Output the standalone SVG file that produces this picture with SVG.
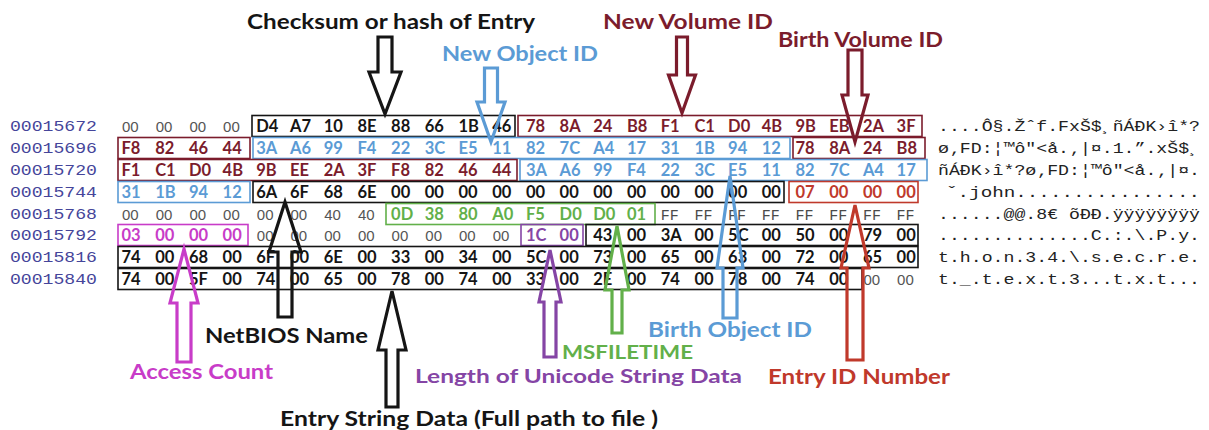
<svg xmlns="http://www.w3.org/2000/svg" width="1209" height="430" viewBox="0 0 1209 430">
  <style>
    .addr { font-family: "Liberation Mono", monospace; font-size: 15px; fill: #45459a; }
    .asc { font-family: "Liberation Mono", monospace; font-size: 15px; fill: #222; }
    .hx { font-family: Lato, "Liberation Sans", sans-serif; font-weight: 700; font-size: 16.5px; }
    .pl { font-family: "Liberation Sans", sans-serif; font-size: 15px; fill: #555; }
    .ff { font-family: "Liberation Mono", monospace; font-size: 15px; fill: #4a4a4a; }
    .lbl { font-family: Lato, "Liberation Sans", sans-serif; font-weight: 700; font-size: 20px; }
    .box { fill: none; stroke-width: 1.6; }
    .arr { fill: none; stroke-width: 3.2; stroke-linejoin: miter; }
    .k { fill: #151515; } .dr { fill: #7b1c2c; } .bl { fill: #5b9bd5; } .rd { fill: #c0392b; }
    .gr { fill: #62b04a; } .mg { fill: #c83cc8; } .pu { fill: #8545a5; }
    .sk { stroke: #151515; } .sdr { stroke: #7b1c2c; } .sbl { stroke: #5b9bd5; } .srd { stroke: #c0392b; }
    .sgr { stroke: #62b04a; } .smg { stroke: #c83cc8; } .spu { stroke: #8545a5; }
  </style>
  <rect width="1209" height="430" fill="#fff"/>

  <!-- offset column -->
  <g id="offsets" class="addr">
    <text x="10" y="131" textLength="87" lengthAdjust="spacingAndGlyphs">00015672</text>
    <text x="10" y="153" textLength="87" lengthAdjust="spacingAndGlyphs">00015696</text>
    <text x="10" y="175" textLength="87" lengthAdjust="spacingAndGlyphs">00015720</text>
    <text x="10" y="197" textLength="87" lengthAdjust="spacingAndGlyphs">00015744</text>
    <text x="10" y="219" textLength="87" lengthAdjust="spacingAndGlyphs">00015768</text>
    <text x="10" y="240" textLength="87" lengthAdjust="spacingAndGlyphs">00015792</text>
    <text x="10" y="262" textLength="87" lengthAdjust="spacingAndGlyphs">00015816</text>
    <text x="10" y="284" textLength="87" lengthAdjust="spacingAndGlyphs">00015840</text>
  </g>

  <!-- field outlines -->
  <g id="field-checksum"><rect class="box sk" x="252" y="115.5" width="263" height="21"/></g>
  <g id="field-new-volume-id">
    <rect class="box sdr" x="518" y="115.5" width="404" height="21"/>
    <rect class="box sdr" x="118" y="137.5" width="132" height="21"/>
  </g>
  <g id="field-new-object-id"><rect class="box sbl" x="253" y="137.5" width="537" height="21"/></g>
  <g id="field-birth-volume-id">
    <rect class="box sdr" x="793" y="137.5" width="132" height="21"/>
    <rect class="box sdr" x="118" y="159.5" width="399" height="21"/>
  </g>
  <g id="field-birth-object-id">
    <rect class="box sbl" x="520" y="159.5" width="407" height="21"/>
    <rect class="box sbl" x="118" y="181.5" width="132" height="21"/>
  </g>
  <g id="field-netbios-name"><rect class="box sk" x="253" y="181.5" width="531" height="21"/></g>
  <g id="field-entry-id"><rect class="box srd" x="789" y="181.5" width="129" height="21"/></g>
  <g id="field-msfiletime"><rect class="box sgr" x="386" y="203.5" width="269" height="21"/></g>
  <g id="field-access-count"><rect class="box smg" x="118" y="224.5" width="130" height="21"/></g>
  <g id="field-string-length"><rect class="box spu" x="521" y="224.5" width="62" height="21"/></g>
  <g id="field-entry-string">
    <rect class="box sk" x="586" y="224.5" width="332" height="21"/>
    <rect class="box sk" x="118" y="246.5" width="800" height="21"/>
    <rect class="box sk" x="118" y="268.5" width="744" height="21"/>
  </g>

  <!-- hex bytes -->
  <g id="row-00015672">
    <text class="pl" y="132"><tspan x="122">00</tspan> <tspan x="155.7">00</tspan> <tspan x="189.4">00</tspan> <tspan x="223.1">00</tspan></text>
    <text class="hx k" y="132"><tspan x="256.3">D4</tspan> <tspan x="290">A7</tspan> <tspan x="323.7">10</tspan> <tspan x="357.4">8E</tspan> <tspan x="391.1">88</tspan> <tspan x="424.8">66</tspan> <tspan x="458.5">1B</tspan> <tspan x="492.2">46</tspan></text>
    <text class="hx dr" y="132"><tspan x="525.9">78</tspan> <tspan x="559.6">8A</tspan> <tspan x="593.3">24</tspan> <tspan x="627">B8</tspan> <tspan x="660.7">F1</tspan> <tspan x="694.4">C1</tspan> <tspan x="728.1">D0</tspan> <tspan x="761.8">4B</tspan> <tspan x="795.5">9B</tspan> <tspan x="829.2">EB</tspan> <tspan x="862.9">2A</tspan> <tspan x="896.6">3F</tspan></text>
  </g>
  <g id="row-00015696">
    <text class="hx dr" y="154"><tspan x="121.5">F8</tspan> <tspan x="155.2">82</tspan> <tspan x="188.9">46</tspan> <tspan x="222.6">44</tspan></text>
    <text class="hx bl" y="154"><tspan x="256.3">3A</tspan> <tspan x="290">A6</tspan> <tspan x="323.7">99</tspan> <tspan x="357.4">F4</tspan> <tspan x="391.1">22</tspan> <tspan x="424.8">3C</tspan> <tspan x="458.5">E5</tspan> <tspan x="492.2">11</tspan> <tspan x="525.9">82</tspan> <tspan x="559.6">7C</tspan> <tspan x="593.3">A4</tspan> <tspan x="627">17</tspan> <tspan x="660.7">31</tspan> <tspan x="694.4">1B</tspan> <tspan x="728.1">94</tspan> <tspan x="761.8">12</tspan></text>
    <text class="hx dr" y="154"><tspan x="795.5">78</tspan> <tspan x="829.2">8A</tspan> <tspan x="862.9">24</tspan> <tspan x="896.6">B8</tspan></text>
  </g>
  <g id="row-00015720">
    <text class="hx dr" y="176"><tspan x="121.5">F1</tspan> <tspan x="155.2">C1</tspan> <tspan x="188.9">D0</tspan> <tspan x="222.6">4B</tspan> <tspan x="256.3">9B</tspan> <tspan x="290">EE</tspan> <tspan x="323.7">2A</tspan> <tspan x="357.4">3F</tspan> <tspan x="391.1">F8</tspan> <tspan x="424.8">82</tspan> <tspan x="458.5">46</tspan> <tspan x="492.2">44</tspan></text>
    <text class="hx bl" y="176"><tspan x="525.9">3A</tspan> <tspan x="559.6">A6</tspan> <tspan x="593.3">99</tspan> <tspan x="627">F4</tspan> <tspan x="660.7">22</tspan> <tspan x="694.4">3C</tspan> <tspan x="728.1">E5</tspan> <tspan x="761.8">11</tspan> <tspan x="795.5">82</tspan> <tspan x="829.2">7C</tspan> <tspan x="862.9">A4</tspan> <tspan x="896.6">17</tspan></text>
  </g>
  <g id="row-00015744">
    <text class="hx bl" y="198"><tspan x="121.5">31</tspan> <tspan x="155.2">1B</tspan> <tspan x="188.9">94</tspan> <tspan x="222.6">12</tspan></text>
    <text class="hx k" y="198"><tspan x="256.3">6A</tspan> <tspan x="290">6F</tspan> <tspan x="323.7">68</tspan> <tspan x="357.4">6E</tspan> <tspan x="391.1">00</tspan> <tspan x="424.8">00</tspan> <tspan x="458.5">00</tspan> <tspan x="492.2">00</tspan> <tspan x="525.9">00</tspan> <tspan x="559.6">00</tspan> <tspan x="593.3">00</tspan> <tspan x="627">00</tspan> <tspan x="660.7">00</tspan> <tspan x="694.4">00</tspan> <tspan x="728.1">00</tspan> <tspan x="761.8">00</tspan></text>
    <text class="hx rd" y="198"><tspan x="795.5">07</tspan> <tspan x="829.2">00</tspan> <tspan x="862.9">00</tspan> <tspan x="896.6">00</tspan></text>
  </g>
  <g id="row-00015768">
    <text class="pl" y="220"><tspan x="122">00</tspan> <tspan x="155.7">00</tspan> <tspan x="189.4">00</tspan> <tspan x="223.1">00</tspan> <tspan x="256.8">00</tspan> <tspan x="290.5">00</tspan> <tspan x="324.2">40</tspan> <tspan x="357.9">40</tspan></text>
    <text class="hx gr" y="220"><tspan x="391.1">0D</tspan> <tspan x="424.8">38</tspan> <tspan x="458.5">80</tspan> <tspan x="492.2">A0</tspan> <tspan x="525.9">F5</tspan> <tspan x="559.6">D0</tspan> <tspan x="593.3">D0</tspan> <tspan x="627">01</tspan></text>
    <text class="ff" y="220"><tspan x="660.7">FF</tspan> <tspan x="694.4">FF</tspan> <tspan x="728.1">FF</tspan> <tspan x="761.8">FF</tspan> <tspan x="795.5">FF</tspan> <tspan x="829.2">FF</tspan> <tspan x="862.9">FF</tspan> <tspan x="896.6">FF</tspan></text>
  </g>
  <g id="row-00015792">
    <text class="hx mg" y="241"><tspan x="121.5">03</tspan> <tspan x="155.2">00</tspan> <tspan x="188.9">00</tspan> <tspan x="222.6">00</tspan></text>
    <text class="pl" y="241"><tspan x="256.8">00</tspan> <tspan x="290.5">00</tspan> <tspan x="324.2">00</tspan> <tspan x="357.9">00</tspan> <tspan x="391.6">00</tspan> <tspan x="425.3">00</tspan> <tspan x="459">00</tspan> <tspan x="492.7">00</tspan></text>
    <text class="hx pu" y="241"><tspan x="525.9">1C</tspan> <tspan x="559.6">00</tspan></text>
    <text class="hx k" y="241"><tspan x="593.3">43</tspan> <tspan x="627">00</tspan> <tspan x="660.7">3A</tspan> <tspan x="694.4">00</tspan> <tspan x="728.1">5C</tspan> <tspan x="761.8">00</tspan> <tspan x="795.5">50</tspan> <tspan x="829.2">00</tspan> <tspan x="862.9">79</tspan> <tspan x="896.6">00</tspan></text>
  </g>
  <g id="row-00015816">
    <text class="hx k" y="263"><tspan x="121.5">74</tspan> <tspan x="155.2">00</tspan> <tspan x="188.9">68</tspan> <tspan x="222.6">00</tspan> <tspan x="256.3">6F</tspan> <tspan x="290">00</tspan> <tspan x="323.7">6E</tspan> <tspan x="357.4">00</tspan> <tspan x="391.1">33</tspan> <tspan x="424.8">00</tspan> <tspan x="458.5">34</tspan> <tspan x="492.2">00</tspan> <tspan x="525.9">5C</tspan> <tspan x="559.6">00</tspan> <tspan x="593.3">73</tspan> <tspan x="627">00</tspan> <tspan x="660.7">65</tspan> <tspan x="694.4">00</tspan> <tspan x="728.1">63</tspan> <tspan x="761.8">00</tspan> <tspan x="795.5">72</tspan> <tspan x="829.2">00</tspan> <tspan x="862.9">65</tspan> <tspan x="896.6">00</tspan></text>
  </g>
  <g id="row-00015840">
    <text class="hx k" y="285"><tspan x="121.5">74</tspan> <tspan x="155.2">00</tspan> <tspan x="188.9">5F</tspan> <tspan x="222.6">00</tspan> <tspan x="256.3">74</tspan> <tspan x="290">00</tspan> <tspan x="323.7">65</tspan> <tspan x="357.4">00</tspan> <tspan x="391.1">78</tspan> <tspan x="424.8">00</tspan> <tspan x="458.5">74</tspan> <tspan x="492.2">00</tspan> <tspan x="525.9">33</tspan> <tspan x="559.6">00</tspan> <tspan x="593.3">2E</tspan> <tspan x="627">00</tspan> <tspan x="660.7">74</tspan> <tspan x="694.4">00</tspan> <tspan x="728.1">78</tspan> <tspan x="761.8">00</tspan> <tspan x="795.5">74</tspan> <tspan x="829.2">00</tspan></text>
    <text class="pl" y="285"><tspan x="863.4">00</tspan> <tspan x="897.1">00</tspan></text>
  </g>

  <!-- character column -->
  <g id="ascii" class="asc">
    <text x="938" y="131" textLength="262" lengthAdjust="spacingAndGlyphs">....Ô§.Žˆf.FxŠ$¸ñÁÐK›î*?</text>
    <text x="938" y="153" textLength="262" lengthAdjust="spacingAndGlyphs">ø‚FD:¦™ô"&lt;å.‚|¤.1.”.xŠ$¸</text>
    <text x="938" y="175" textLength="262" lengthAdjust="spacingAndGlyphs">ñÁÐK›î*?ø‚FD:¦™ô"&lt;å.‚|¤.</text>
    <text x="946" y="197" textLength="254" lengthAdjust="spacingAndGlyphs">ˇ.john................</text>
    <text x="938" y="219" textLength="262" lengthAdjust="spacingAndGlyphs">......@@.8€ õÐÐ.ÿÿÿÿÿÿÿÿ</text>
    <text x="938" y="240" textLength="262" lengthAdjust="spacingAndGlyphs">..............C.:.\.P.y.</text>
    <text x="938" y="262" textLength="262" lengthAdjust="spacingAndGlyphs">t.h.o.n.3.4.\.s.e.c.r.e.</text>
    <text x="938" y="284" textLength="262" lengthAdjust="spacingAndGlyphs">t._.t.e.x.t.3...t.x.t...</text>
  </g>

  <!-- annotation labels -->
  <g id="label-checksum"><text class="lbl k" x="247" y="29" textLength="288" lengthAdjust="spacingAndGlyphs">Checksum or hash of Entry</text></g>
  <g id="label-new-object-id"><text class="lbl bl" x="442" y="61" textLength="156" lengthAdjust="spacingAndGlyphs">New Object ID</text></g>
  <g id="label-new-volume-id"><text class="lbl dr" x="603" y="29" textLength="170" lengthAdjust="spacingAndGlyphs">New Volume ID</text></g>
  <g id="label-birth-volume-id"><text class="lbl dr" x="778" y="47" textLength="165" lengthAdjust="spacingAndGlyphs">Birth Volume ID</text></g>
  <g id="label-netbios-name"><text class="lbl k" x="205" y="343" textLength="163" lengthAdjust="spacingAndGlyphs">NetBIOS Name</text></g>
  <g id="label-access-count"><text class="lbl mg" x="130" y="379" textLength="143" lengthAdjust="spacingAndGlyphs">Access Count</text></g>
  <g id="label-entry-string"><text class="lbl k" x="280" y="426" textLength="378" lengthAdjust="spacingAndGlyphs">Entry String Data (Full path to file )</text></g>
  <g id="label-string-length"><text class="lbl pu" x="415" y="383" textLength="327" lengthAdjust="spacingAndGlyphs" style="font-size:19.5px">Length of Unicode String Data</text></g>
  <g id="label-msfiletime"><text class="lbl gr" x="562" y="359" textLength="131" lengthAdjust="spacingAndGlyphs" style="font-size:19px">MSFILETIME</text></g>
  <g id="label-birth-object-id"><text class="lbl bl" x="648" y="337" textLength="164" lengthAdjust="spacingAndGlyphs">Birth Object ID</text></g>
  <g id="label-entry-id"><text class="lbl rd" x="768" y="384" textLength="182" lengthAdjust="spacingAndGlyphs">Entry ID Number</text></g>

  <!-- block arrows from labels to fields -->
  <g id="connectors">
    <path class="arr sk" d="M378,37 L392,37 L392,72 L401,72 L385,114 L369,72 L378,72 Z"/>
    <path class="arr sbl" d="M484.5,68 L497.5,68 L497.5,102 L505,102 L491,142 L477,102 L484.5,102 Z"/>
    <path class="arr sdr" d="M676.5,37 L687.5,37 L687.5,75 L695.5,75 L682,113 L668.5,75 L676.5,75 Z"/>
    <path class="arr sdr" d="M848,50 L862,50 L862,95 L868,95 L855,142 L842,95 L848,95 Z"/>
    <path class="arr smg" d="M184,249 L198,303 L191,303 L191,362 L177,362 L177,303 L170,303 Z"/>
    <path class="arr sk" d="M285,202 L301,252 L292,252 L292,317 L278,317 L278,252 L269,252 Z"/>
    <path class="arr sk" d="M392,291 L406,350 L398,350 L398,407 L386,407 L386,350 L378,350 Z"/>
    <path class="arr spu" d="M550,250 L561,302 L556,302 L556,357 L544,357 L544,302 L539,302 Z"/>
    <path class="arr sgr" d="M617,226 L629,290 L622,290 L622,333 L612,333 L612,290 L605,290 Z"/>
    <path class="arr sbl" d="M730,176 L743,268 L737,268 L737,318 L723,318 L723,268 L717,268 Z"/>
    <path class="arr srd" d="M855,205 L869,268 L863,268 L863,360 L847,360 L847,268 L841,268 Z"/>
  </g>
</svg>
